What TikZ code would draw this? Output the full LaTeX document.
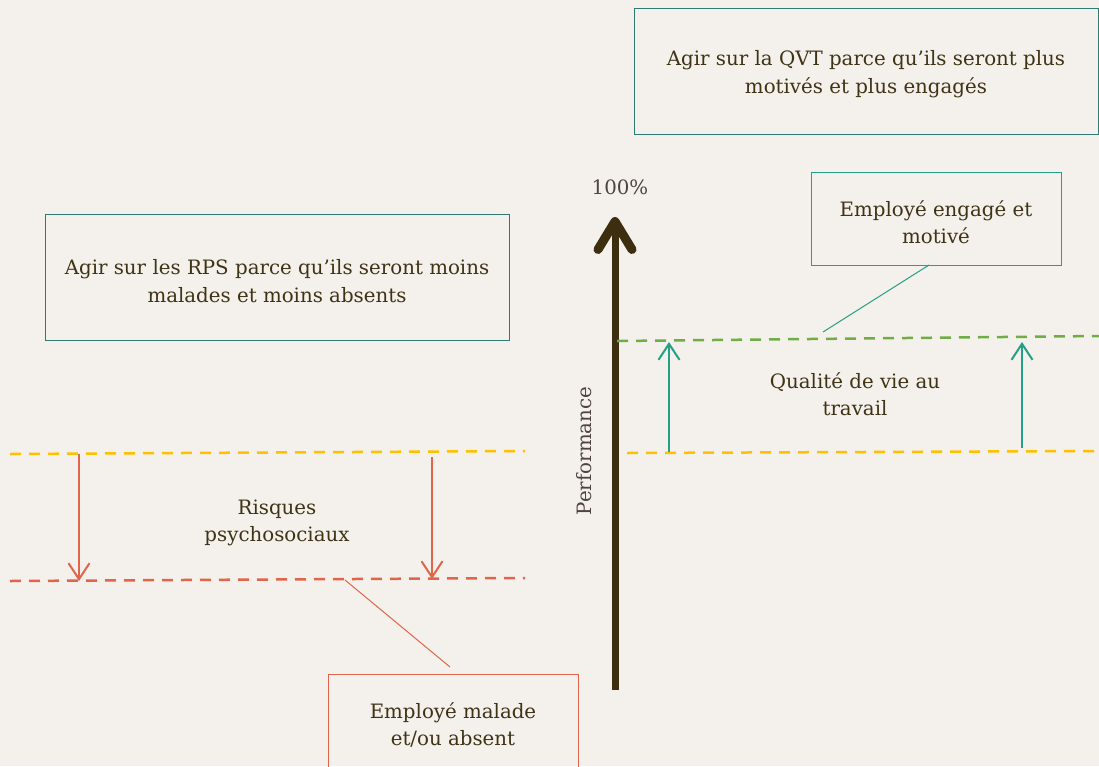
\documentclass[tikz,border=0pt]{standalone}
\usepackage{fontspec}
\setmainfont{DejaVu Serif}
\usetikzlibrary{arrows.meta}
\definecolor{bg}{HTML}{F4F1EC}
\definecolor{txt}{HTML}{3F3316}
\definecolor{axtxt}{HTML}{4F4340}
\definecolor{boxteal}{HTML}{2F7A74}
\definecolor{teal}{HTML}{23A086}
\definecolor{green}{HTML}{70AD47}
\definecolor{gold}{HTML}{FFC000}
\definecolor{red}{HTML}{E0654A}
\definecolor{brown}{HTML}{3D2E10}
\tikzset{
  lbl/.style={text=txt, font=\fontsize{19.8}{27.5}\selectfont, align=center},
  frame/.style={draw=#1, line width=1pt},
  dline/.style={draw=#1, line width=2.5pt, dash pattern=on 11pt off 8pt},
  varrow/.style={draw=#1, line width=2pt, -{Straight Barb[length=16pt,width=21pt,line width=2pt]}},
  conn/.style={draw=#1, line width=1pt},
}
\begin{document}
\begin{tikzpicture}[x=1pt,y=-1pt]
\fill[bg] (0,0) rectangle (1099,766);
\useasboundingbox (0,0) rectangle (1099,766);
% boxes
\draw[frame=boxteal] (634,8) rectangle (1098,134);
\node[lbl] (qvt) at (866,74) {Agir sur la QVT parce qu'ils seront plus\\motivés et plus engagés};
\draw[frame=boxteal] (45,214) rectangle (509,340);
\node[lbl] (rps) at (277,281) {Agir sur les RPS parce qu'ils seront moins\\malades et moins absents};
\draw[frame=teal] (811,172) rectangle (1061,265);
\coordinate (engb) at (929,265);
\node[lbl] (eng) at (936,222) {Employé engagé et\\motivé};
\draw[frame=red] (328,674) rectangle (578,770);
\coordinate (malt) at (450,667);
\node[lbl] (mal) at (453,725) {Employé malade\\et/ou absent};
% performance axis
\coordinate (ax0) at (615,690);
\coordinate (ax1) at (615,217);
\draw[brown, line width=7pt, -{Straight Barb[length=28pt,width=34pt,line width=9pt,round]}] (ax0) -- (ax1);
\node[text=axtxt, font=\fontsize{19.8}{23}\selectfont] (pct) at (620,187) {100\%};
\node[text=axtxt, font=\fontsize{19.8}{23}\selectfont, rotate=90] (perf) at (584,451) {Performance};
% right side lines
\coordinate (g0) at (617,341); \coordinate (g1) at (1099,336);
\coordinate (y0) at (627,453); \coordinate (y1) at (1099,451);
\draw[dline=green] (g0) -- (g1);
\draw[dline=gold] (y0) -- (y1);
\coordinate (ra1) at (669,452); \coordinate (ra1t) at (669,342);
\coordinate (ra2) at (1022,448); \coordinate (ra2t) at (1022,342);
\draw[varrow=teal] (ra1) -- (ra1t);
\draw[varrow=teal] (ra2) -- (ra2t);
\node[lbl] (qual) at (855,394) {Qualité de vie au\\travail};
\coordinate (gc) at (823,332);
\draw[conn=teal] (engb) -- (gc);
% left side lines
\coordinate (ly0) at (10,454); \coordinate (ly1) at (525,451);
\coordinate (lr0) at (10,581); \coordinate (lr1) at (525,578);
\draw[dline=gold] (ly0) -- (ly1);
\draw[dline=red] (lr0) -- (lr1);
\coordinate (la1) at (79,454); \coordinate (la1t) at (79,581);
\coordinate (la2) at (432,457); \coordinate (la2t) at (432,579);
\draw[varrow=red] (la1) -- (la1t);
\draw[varrow=red] (la2) -- (la2t);
\node[lbl] (risq) at (277,523) {Risques\\psychosociaux};
\coordinate (rc) at (345,580);
\draw[conn=red] (rc) -- (malt);
\end{tikzpicture}
\end{document}
